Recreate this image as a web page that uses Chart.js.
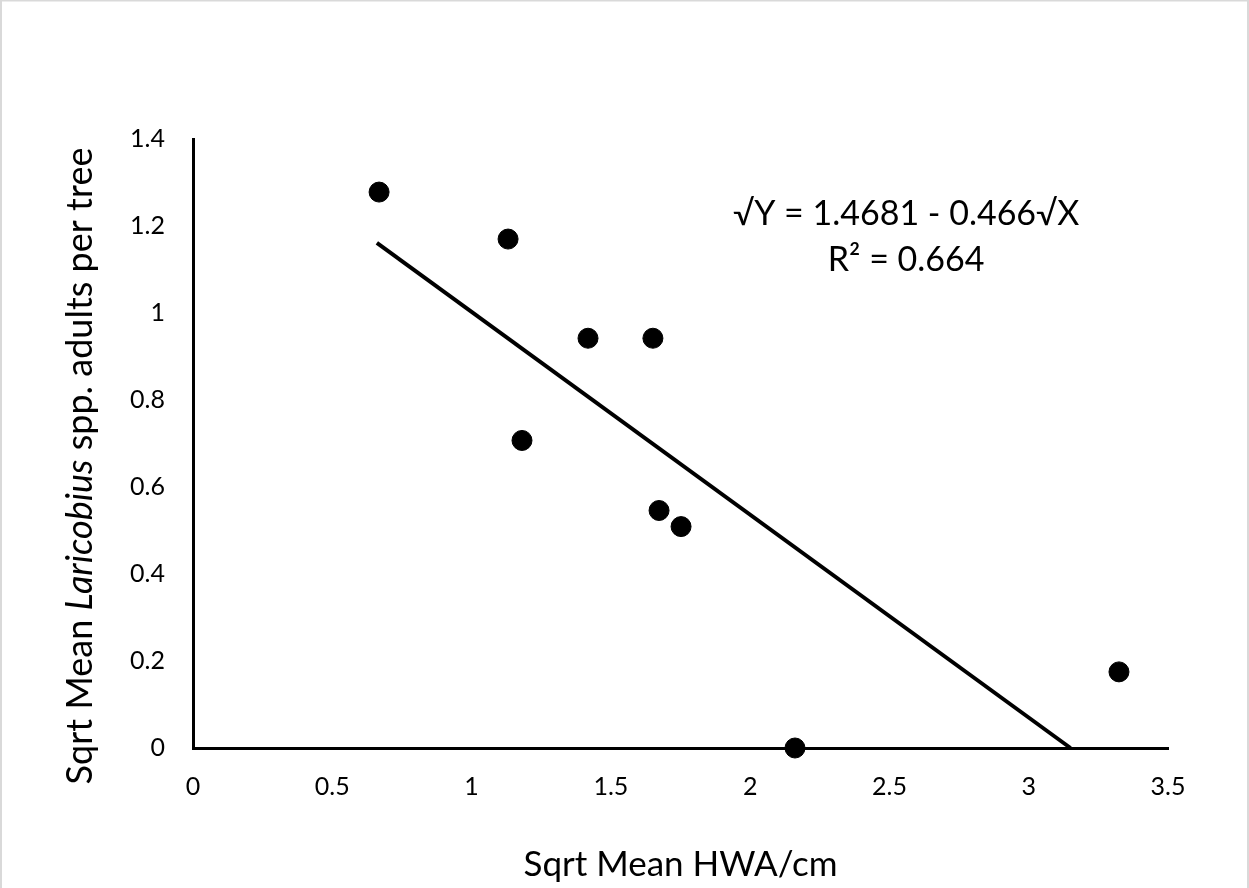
<!DOCTYPE html>
<html>
<head>
<meta charset="utf-8">
<script src="https://cdn.jsdelivr.net/npm/chart.js@4.4.1/dist/chart.umd.min.js"></script>
<style>
  html, body { margin: 0; padding: 0; background: #fff; }
  canvas { display: block; }
</style>
</head>
<body>
<canvas id="scatterChart" width="1249" height="888"></canvas>
<script>
// values
const hwaSqrt = [0.668, 1.131, 1.418, 1.651, 1.181, 1.673, 1.752, 2.161, 3.324];
const laricobiusSqrt = [1.278, 1.170, 0.942, 0.942, 0.707, 0.546, 0.509, 0.0, 0.175];
// fitted line, from its two ends on the plot
const fitX = [0.66, 3.15];
const fitY = [1.161, 0.0];

const xTicks = [0, 0.5, 1, 1.5, 2, 2.5, 3, 3.5];
const yTicks = [0, 0.2, 0.4, 0.6, 0.8, 1, 1.2, 1.4];

const equationLines = ["\u221AY = 1.4681 - 0.466\u221AX", "R\u00B2 = 0.664"];
const xTitle = "Sqrt Mean HWA/cm";
const yTitleParts = [["Sqrt Mean ", false], ["Laricobius", true], [" spp. adults per tree", false]];

const FONT = "Lato, 'Noto Sans', sans-serif";

const points = hwaSqrt.map((x, i) => ({ x, y: laricobiusSqrt[i] }));
const fitPoints = fitX.map((x, i) => ({ x, y: fitY[i] }));

// white page + the thin grey frame of the original image
const framePlugin = {
  id: "frame",
  beforeDraw(chart) {
    const { ctx, width, height } = chart;
    ctx.save();
    ctx.fillStyle = "#fff";
    ctx.fillRect(0, 0, width, height);
    ctx.strokeStyle = "#d9d9d9";
    ctx.lineWidth = 2;
    ctx.beginPath();
    ctx.moveTo(1, height);
    ctx.lineTo(1, 0.5);
    ctx.lineTo(width - 1, 0.5);
    ctx.lineTo(width - 1, height);
    ctx.stroke();
    ctx.restore();
  }
};

// y title with italic genus name, and the regression equation
const textPlugin = {
  id: "texts",
  afterDraw(chart) {
    const { ctx, scales } = chart;
    ctx.save();
    ctx.fillStyle = "#000";

    // y axis title, rotated
    ctx.translate(80, 466);
    ctx.rotate(-Math.PI / 2);
    ctx.textBaseline = "middle";
    ctx.textAlign = "left";
    let total = 0;
    yTitleParts.forEach(([t, it]) => {
      ctx.font = (it ? "italic " : "") + "36px " + FONT;
      total += ctx.measureText(t).width;
    });
    let x = -total / 2;
    yTitleParts.forEach(([t, it]) => {
      ctx.font = (it ? "italic " : "") + "36px " + FONT;
      ctx.fillText(t, x, 0);
      x += ctx.measureText(t).width;
    });
    ctx.setTransform(1, 0, 0, 1, 0, 0);

    // equation
    ctx.font = "34px " + FONT;
    ctx.textAlign = "center";
    ctx.textBaseline = "alphabetic";
    const ex = scales.x.getPixelForValue(2.56);
    ctx.fillText(equationLines[0], ex, scales.y.getPixelForValue(1.203));
    ctx.fillText(equationLines[1], ex, scales.y.getPixelForValue(1.097));
    ctx.restore();
  }
};

new Chart(document.getElementById("scatterChart"), {
  type: "scatter",
  data: {
    datasets: [
      {
        label: "Sites",
        data: points,
        backgroundColor: "#000",
        borderColor: "#000",
        pointRadius: 10,
        pointHoverRadius: 10,
        clip: false
      },
      {
        label: "Fit",
        type: "line",
        data: fitPoints,
        borderColor: "#000",
        borderWidth: 4,
        pointRadius: 0,
        fill: false,
        clip: false
      }
    ]
  },
  options: {
    responsive: false,
    animation: false,
    events: [],
    layout: { padding: { top: 139, right: 81, left: 0, bottom: 0 } },
    plugins: {
      legend: { display: false },
      tooltip: { enabled: false }
    },
    scales: {
      x: {
        type: "linear",
        min: 0,
        max: 3.5,
        afterBuildTicks: (s) => { s.ticks = xTicks.map(v => ({ value: v })); },
        afterFit: (s) => { s.height = 140; },
        grid: { display: false, drawTicks: false },
        border: { display: true, color: "#000", width: 3 },
        ticks: {
          color: "#000",
          font: { family: FONT, size: 25 },
          padding: 24,
          maxRotation: 0,
          callback: (v) => String(v)
        },
        title: {
          display: true,
          text: xTitle,
          color: "#000",
          font: { family: FONT, size: 35 },
          padding: { top: 0, bottom: 2 }
        }
      },
      y: {
        type: "linear",
        min: 0,
        max: 1.4,
        afterBuildTicks: (s) => { s.ticks = yTicks.map(v => ({ value: v })); },
        afterFit: (s) => { s.width = 193; },
        grid: { display: false, drawTicks: false },
        border: { display: true, color: "#000", width: 3 },
        ticks: {
          color: "#000",
          font: { family: FONT, size: 25 },
          padding: 28,
          callback: (v) => String(v)
        }
      }
    }
  },
  plugins: [framePlugin, textPlugin]
});
</script>
</body>
</html>
